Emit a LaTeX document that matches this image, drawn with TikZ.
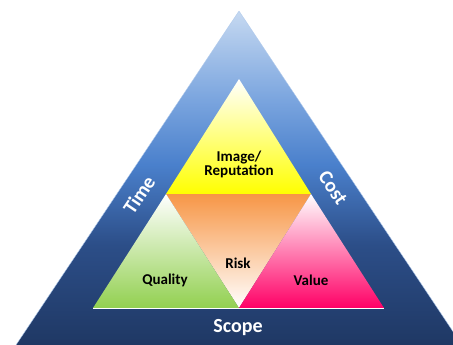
\documentclass[tikz,border=0pt]{standalone}
\usepackage{fontspec}
\setmainfont{Carlito}
\definecolor{skytop}{HTML}{C6D9F1}
\definecolor{skyhigh}{HTML}{7CA6DF}
\definecolor{skymid}{HTML}{4A80CC}
\definecolor{skylow}{HTML}{2C4E88}
\definecolor{navy}{HTML}{1F3864}
\definecolor{riskorange}{HTML}{F79646}
\definecolor{leafgreen}{HTML}{92D050}
\definecolor{hotpink}{HTML}{FF0066}
\pgfdeclareverticalshading{bandshade}{100bp}{color(0bp)=(navy); color(25bp)=(navy);
  color(40bp)=(skylow); color(52bp)=(skymid); color(62bp)=(skyhigh);
  color(75bp)=(skytop); color(100bp)=(skytop)}
\begin{document}
\begin{tikzpicture}[x=1pt,y=-1pt,
    inner/.style={font=\bfseries\fontsize{15}{17}\selectfont, align=center, text=black},
    edge/.style={font=\bfseries\fontsize{20}{22}\selectfont, text=white}]
\useasboundingbox (0,0) rectangle (453,345);
\clip (0,0) rectangle (453,345);

% corners
\coordinate (apex) at (239,11);
\coordinate (bl) at (16,345);
\coordinate (br) at (462,345);
\coordinate (itop) at (239,79);
\coordinate (ileft) at (166,194);
\coordinate (iright) at (311,194);
\coordinate (ibl) at (93,308);
\coordinate (ibm) at (239,308);
\coordinate (ibr) at (384,308);

% outer band
\shade[shading=bandshade] (apex) -- (bl) -- (br) -- cycle;
\draw[skyhigh!60!white, thin] (apex) -- (bl) (apex) -- (br);

% inner triangles
\shade[top color=white, bottom color=yellow] (itop) -- (ileft) -- (iright) -- cycle;
\shade[top color=riskorange, bottom color=white] (ileft) -- (iright) -- (ibm) -- cycle;
\shade[top color=white, bottom color=leafgreen] (ileft) -- (ibl) -- (ibm) -- cycle;
\shade[top color=white, bottom color=hotpink] (iright) -- (ibm) -- (ibr) -- cycle;
\draw[white, thin] (ibl) -- (ibr);

% labels
\node[inner] (image) at (239,164) {Image/\\[-3pt]Reputation};
\node[inner] (risk) at (238,263) {Risk};
\node[inner] (quality) at (165,280) {Quality};
\node[inner] (value) at (311,280) {Value};
\node[edge] (scope) at (238,328) {Scope};
\node[edge, rotate=56] (time) at (139,195) {Time};
\node[edge, rotate=-56] (cost) at (333,188) {Cost};

\end{tikzpicture}
\end{document}
